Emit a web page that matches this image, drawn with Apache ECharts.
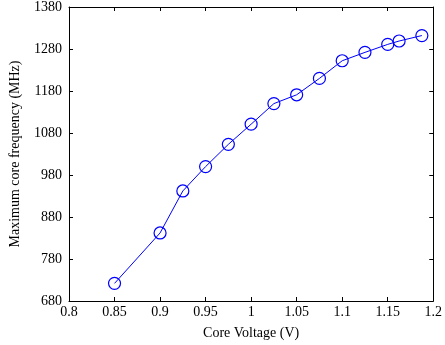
<!DOCTYPE html>
<html>
<head>
<meta charset="utf-8">
<script src="https://cdn.jsdelivr.net/npm/echarts@6/dist/echarts.min.js"></script>
<style>
  html, body { margin: 0; padding: 0; background: #fff; }
  #chart { width: 445px; height: 345px; }
</style>
</head>
<body>
<div id="chart"></div>
<script>
var voltage = [0.85, 0.9, 0.925, 0.95, 0.975, 1.0, 1.025, 1.05, 1.075, 1.1, 1.125, 1.15, 1.1625, 1.1875];
var freq = [722, 842, 942, 1000, 1053, 1101, 1150, 1171, 1210, 1252, 1272, 1291, 1299, 1312];
var xTicks = [0.8, 0.85, 0.9, 0.95, 1, 1.05, 1.1, 1.15, 1.2];
var yTicks = [680, 780, 880, 980, 1080, 1180, 1280, 1380];

var myChart = echarts.init(document.getElementById('chart'));

var font = '"Liberation Serif", "Times New Roman", serif';
var axisLine = { show: true, onZero: false, lineStyle: { color: '#000', width: 1 } };
var tick = { show: true, inside: true, length: 4, lineStyle: { color: '#000' } };

var data = voltage.map(function (v, i) { return [v, freq[i]]; });

var option = {
    animation: false,
    backgroundColor: '#fff',
    grid: { left: 65, right: 8, top: 7, bottom: 44, containLabel: false },
    xAxis: [{
        type: 'value',
        min: xTicks[0],
        max: xTicks[xTicks.length - 1],
        interval: 0.05,
        name: 'Core Voltage (V)',
        nameLocation: 'middle',
        nameGap: 25,
        nameTextStyle: { fontFamily: font, fontSize: 14, color: '#000' },
        axisLine: axisLine,
        axisTick: tick,
        splitLine: { show: false },
        axisLabel: { fontFamily: font, fontSize: 14, color: '#000', margin: 4,
            formatter: function (v) { return String(Math.round(v * 100) / 100); } }
    }, {
        type: 'value',
        position: 'top',
        min: xTicks[0],
        max: xTicks[xTicks.length - 1],
        interval: 0.05,
        axisLine: axisLine,
        axisTick: tick,
        axisLabel: { show: false },
        splitLine: { show: false }
    }],
    yAxis: [{
        type: 'value',
        min: yTicks[0],
        max: yTicks[yTicks.length - 1],
        interval: 100,
        name: 'Maximum core frequency (MHz)',
        nameLocation: 'middle',
        nameGap: 47,
        nameTextStyle: { fontFamily: font, fontSize: 14, color: '#000' },
        axisLine: axisLine,
        axisTick: tick,
        splitLine: { show: false },
        axisLabel: { fontFamily: font, fontSize: 14, color: '#000', margin: 7,
            formatter: function (v) { return String(v); } }
    }, {
        type: 'value',
        position: 'right',
        min: yTicks[0],
        max: yTicks[yTicks.length - 1],
        interval: 100,
        axisLine: axisLine,
        axisTick: tick,
        axisLabel: { show: false },
        splitLine: { show: false }
    }],
    series: [{
        type: 'line',
        data: data,
        symbol: 'circle',
        symbolSize: 12,
        showAllSymbol: true,
        lineStyle: { color: '#0000ff', width: 1 },
        itemStyle: { color: 'rgba(0,0,0,0)', borderColor: '#0000ff', borderWidth: 1.2 }
    }]
};

myChart.setOption(option);
</script>
</body>
</html>
